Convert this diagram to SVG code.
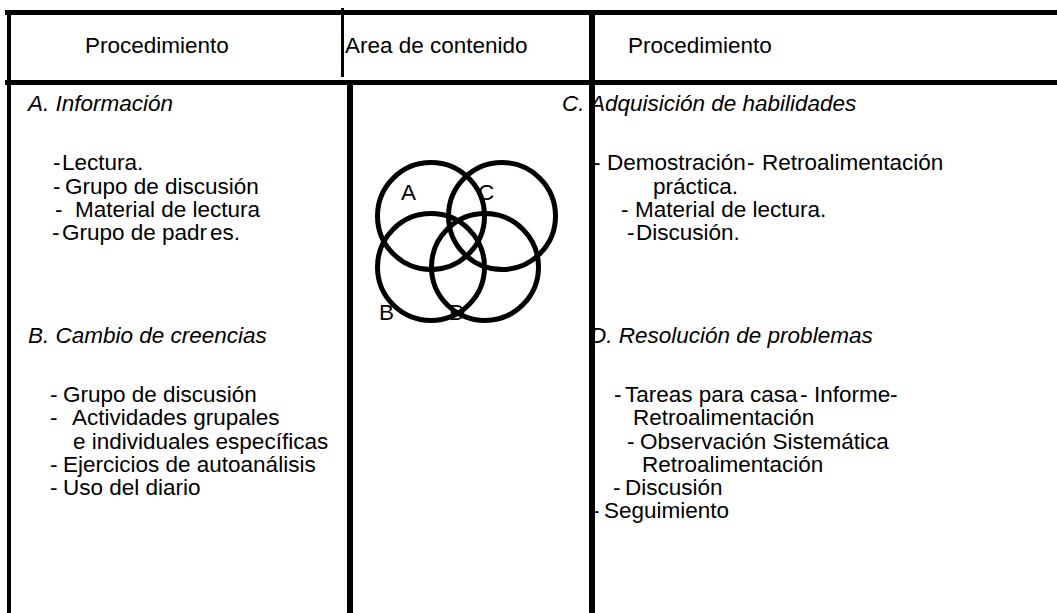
<svg xmlns="http://www.w3.org/2000/svg" width="1057" height="613" viewBox="0 0 1057 613">
<style>
text{font-family:"Liberation Sans",Arial,sans-serif;font-size:22.5px;fill:#000}
.it{font-style:italic}
.rule{fill:#000}
.venn{fill:none;stroke:#000;stroke-width:5}
</style>
<rect width="1057" height="613" fill="#fff"/>
<g id="grid">
<rect class="rule" x="5" y="10" width="1052" height="5"/>
<rect class="rule" x="5" y="80" width="1052" height="5"/>
<rect class="rule" x="7" y="10" width="4" height="603"/>
<rect class="rule" x="341" y="8" width="3" height="69"/>
<rect class="rule" x="347" y="85" width="6" height="528"/>
<rect class="rule" x="589" y="10" width="6" height="603"/>
</g>
<g id="header">
<text x="85" y="53">Procedimiento</text>
<text x="345" y="53">Area de contenido</text>
<text x="628" y="53">Procedimiento</text>
</g>
<g id="venn">
<circle class="venn" cx="431" cy="216" r="53.5"/>
<circle class="venn" cx="502" cy="216" r="53.5"/>
<circle class="venn" cx="431" cy="267" r="53.5"/>
<circle class="venn" cx="485" cy="267" r="53.5"/>
<text x="401" y="200">A</text>
<text x="478" y="200">C</text>
<text x="379" y="320">B</text>
<text x="449" y="320">D</text>
</g>
<g id="sectionA">
<text class="it" x="28" y="111">A. Información</text>
<text x="53" y="170">-<tspan x="62">Lectura.</tspan></text>
<text x="53" y="194">-<tspan x="65">Grupo de discusión</tspan></text>
<text x="55" y="217">-<tspan x="75">Material de lectura</tspan></text>
<text x="52" y="240">-<tspan x="62">Grupo de padr</tspan><tspan dx="3">es.</tspan></text>
</g>
<g id="sectionB">
<text class="it" x="28" y="343">B. Cambio de creencias</text>
<text x="50" y="402">-<tspan x="63">Grupo de discusión</tspan></text>
<text x="50" y="425">-<tspan x="72">Actividades grupales</tspan></text>
<text x="73" y="449">e individuales específicas</text>
<text x="50" y="472">-<tspan x="63">Ejercicios de autoanálisis</tspan></text>
<text x="50" y="495">-<tspan x="63">Uso del diario</tspan></text>
</g>
<g id="sectionC">
<text class="it" x="562" y="111">C. Adquisición de habilidades</text>
<text x="593" y="170">-<tspan x="607">Demostración</tspan><tspan x="747">-</tspan><tspan x="762">Retroalimentación</tspan></text>
<text x="653" y="194">práctica.</text>
<text x="621" y="217">-<tspan x="635">Material de lectura.</tspan></text>
<text x="627" y="240">-<tspan x="636">Discusión.</tspan></text>
</g>
<g id="sectionD">
<text class="it" x="590" y="343">D. Resolución de problemas</text>
<text x="614" y="402">-<tspan x="625">Tareas para casa</tspan><tspan x="800">-</tspan><tspan x="814">Informe</tspan><tspan x="890">-</tspan></text>
<text x="633" y="425">Retroalimentación</text>
<text x="627" y="449">-<tspan x="640">Observación Sistemática</tspan></text>
<text x="642" y="472">Retroalimentación</text>
<text x="613" y="495">-<tspan x="625">Discusión</tspan></text>
<text x="592" y="518">-<tspan x="604">Seguimiento</tspan></text>
</g>
</svg>
